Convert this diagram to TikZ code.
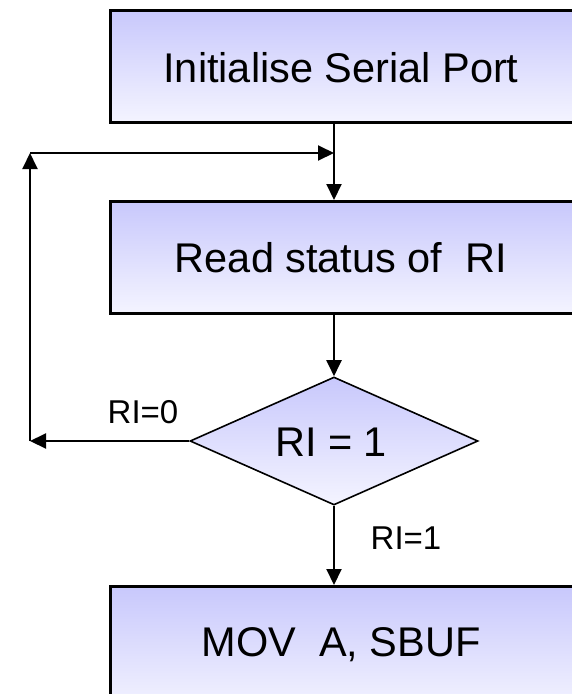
\documentclass[tikz,border=0pt]{standalone}
\usepackage{fontspec}
\setmainfont{Liberation Sans}
\usetikzlibrary{arrows.meta,shapes.geometric}

\tikzset{
  stepbox/.style={draw=black, line width=2.5pt, rectangle, inner sep=0pt,
    top color=boxtop, bottom color=boxbottom, anchor=north west,
    minimum width=490pt},
  decbox/.style={draw=black, line width=1.6pt, diamond, inner sep=0pt,
    top color=boxtop, bottom color=boxbottom,
    minimum width=288pt, minimum height=128pt},
  bigtxt/.style={font=\fontsize{41.5}{48}\selectfont, anchor=base, inner sep=0pt},
  smalltxt/.style={font=\fontsize{33}{40}\selectfont, anchor=base, inner sep=0pt},
  flow/.style={line width=2pt, -{Triangle[length=16pt,width=15pt]}},
}
\definecolor{boxtop}{HTML}{C8C8FC}
\definecolor{boxbottom}{HTML}{F4F4FF}

\begin{document}
\begin{tikzpicture}[x=1pt, y=-1pt]
  \useasboundingbox (0,0) rectangle (572,694);
  \clip (0,0) rectangle (572,694);

  % process boxes (they run on past the right edge)
  \node[stepbox, minimum height=112pt] (init) at (109,9) {};
  \node[bigtxt] (initT) at (341,82) {Initialise Serial Port};

  \node[stepbox, minimum height=112pt] (read) at (109,200) {};
  \node[bigtxt] (readT) at (341,272) {Read status of\ \ RI};

  % decision
  \node[decbox] (dec) at (334,441) {};
  \node[bigtxt] (decT) at (331,456) {RI = 1};

  \node[stepbox, minimum height=125pt] (mov) at (109,585) {};
  \node[bigtxt] (movT) at (341,656) {MOV\ \ A, SBUF};

  % branch labels
  \node[smalltxt] (l0) at (143,423) {RI=0};
  \node[smalltxt] (l1) at (406,549) {RI=1};

  % loop corners
  \coordinate (join) at (dec.north |- 0,153);
  \coordinate (cornerL) at (30,441);
  \coordinate (cornerT) at (30,153);

  % main flow
  \draw[flow] (dec.north |- init.south) -- (dec.north |- read.north);
  \draw[flow] (dec.north |- read.south) -- (dec.north);
  \draw[flow] (dec.south) -- (dec.south |- mov.north);

  % RI=0 loop back
  \draw[flow] (dec.west) -- (cornerL);
  \draw[flow] (cornerL) -- (cornerT);
  \draw[flow] (cornerT) -- (join);
\end{tikzpicture}
\end{document}
